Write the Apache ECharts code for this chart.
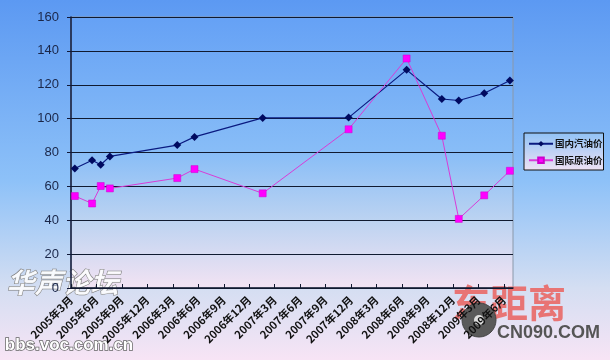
<!DOCTYPE html>
<html><head><meta charset="utf-8">
<script src="https://cdn.jsdelivr.net/npm/echarts@6/dist/echarts.min.js"></script>
<style>html,body{margin:0;padding:0;}#c{width:610px;height:360px;}</style>
</head><body><div id="c"></div>
<script>
// Dates of the data points
const dates = ['2005-03-15','2005-05-16','2005-06-16','2005-07-19','2006-03-17','2006-05-18','2007-01-19','2007-11-22','2008-06-17','2008-10-22','2008-12-22','2009-03-22','2009-06-22'];
const domesticGasoline = [70.6,75.4,72.8,77.7,84.4,89.2,100.4,100.6,128.8,111.6,110.7,115.0,122.5];
const intlCrude = [54.3,49.9,60.2,58.8,64.9,70.2,55.9,93.7,135.5,89.9,40.8,54.7,69.2];
const tickLabels = ['2005年3月','2005年6月','2005年9月','2005年12月','2006年3月','2006年6月','2006年9月','2006年12月','2007年3月','2007年6月','2007年9月','2007年12月','2008年3月','2008年6月','2008年9月','2008年12月','2009年3月','2009年6月'];
const seriesNames = ['国内汽油价','国际原油价'];
const yTicks = [0,20,40,60,80,100,120,140,160];

// convert a date to months since 2005-03-01
function monthsOf(s){
  const [y,m,d] = s.split('-').map(Number);
  const dim = new Date(y, m, 0).getDate();
  return (y-2005)*12 + (m-3) + (d-1)/dim;
}
const xs = dates.map(monthsOf);
const tickPos = tickLabels.map((_,i)=>i*3);
const axisMax = monthsOf('2009-07-03');

const chart = echarts.init(document.getElementById('c'));
chart.setOption({
  animation:false,
  backgroundColor:{type:'linear',x:0,y:0,x2:0,y2:1,colorStops:[
    {offset:0,color:'#5c99f2'},{offset:0.5,color:'#8dc1f8'},{offset:0.8,color:'#d4def2'},{offset:1,color:'#f7e4f5'}]},
  grid:{left:71,right:97,top:17,bottom:72,show:true,borderColor:'#8a98aa',borderWidth:1,
    backgroundColor:{type:'linear',x:0,y:0,x2:0,y2:1,colorStops:[
      {offset:0,color:'#65a1f5'},{offset:0.5,color:'#88bdf7'},{offset:0.75,color:'#bcd3f1'},{offset:1,color:'#f3e3f3'}]}},
  xAxis:{type:'value',min:0,max:axisMax,
    axisLine:{show:true,lineStyle:{color:'#101830',width:1.5}},
    axisTick:{show:true,inside:true,length:4,lineStyle:{color:'#101830'},customValues:tickPos},
    axisLabel:{customValues:tickPos,rotate:45,margin:10,fontSize:11,fontWeight:'bold',color:'#111',
      fontFamily:'Noto Sans CJK SC',
      formatter:(v)=>{const i=Math.round(v/3);return tickLabels[i]||'';}},
    splitLine:{show:false}},
  yAxis:{type:'value',min:yTicks[0],max:yTicks[yTicks.length-1],interval:20,
    axisLine:{show:true,lineStyle:{color:'#101838',width:1.5}},
    axisTick:{show:true,length:4,lineStyle:{color:'#101838'}},
    axisLabel:{fontSize:13,color:'#1a2648',fontFamily:'Liberation Sans',margin:12},
    splitLine:{show:true,lineStyle:{color:'#101a30',width:1.2}}},
  legend:{orient:'vertical',left:524,top:133,width:81,height:38,
    padding:[6,1,5,4],itemGap:7,itemWidth:24,itemHeight:7,
    borderColor:'#111',borderWidth:1,
    backgroundColor:{type:'linear',x:0,y:0,x2:0,y2:1,colorStops:[{offset:0,color:'#90c2f6'},{offset:1,color:'#efe2f4'}]},
    textStyle:{fontSize:9.5,fontWeight:'bold',color:'#111',fontFamily:'Noto Sans CJK SC',padding:[0,0,0,-3]},
    data:seriesNames},
  series:[
    {name:seriesNames[0],type:'line',data:xs.map((x,i)=>[x,domesticGasoline[i]]),
      symbol:'diamond',symbolSize:8,lineStyle:{color:'#0a1a80',width:1.2},
      itemStyle:{color:'#000a60'}},
    {name:seriesNames[1],type:'line',data:xs.map((x,i)=>[x,intlCrude[i]]),
      symbol:'rect',symbolSize:7,lineStyle:{color:'#d83cd8',width:1},
      itemStyle:{color:'#ff00ff',borderColor:'#cc00cc',borderWidth:0.5}}
  ],
  graphic:[
    {type:'text',left:6,top:268,style:{text:'华声论坛',font:'italic bold 28px "Noto Sans CJK SC"',fill:'rgba(255,255,255,0.85)',stroke:'#777',lineWidth:1}},
    {type:'text',left:4,top:336,style:{text:'bbs.voc.com.cn',font:'bold 17px "Liberation Sans"',fill:'#fff',stroke:'#666',lineWidth:1.5}},
    {type:'text',left:452,top:284,style:{text:'东距离',font:'bold 38px "Noto Sans CJK SC"',fill:'#e87474'}},
    {type:'circle',shape:{cx:479,cy:320,r:17},style:{fill:'#5a5a5a',stroke:'#444'}},
    {type:'circle',shape:{cx:479,cy:320,r:5},style:{fill:'#ddd'}},
    {type:'text',left:497,top:324,style:{text:'CN090.COM',font:'bold 18px "Liberation Sans"',fill:'#555'}}
  ]
});
</script></body></html>
